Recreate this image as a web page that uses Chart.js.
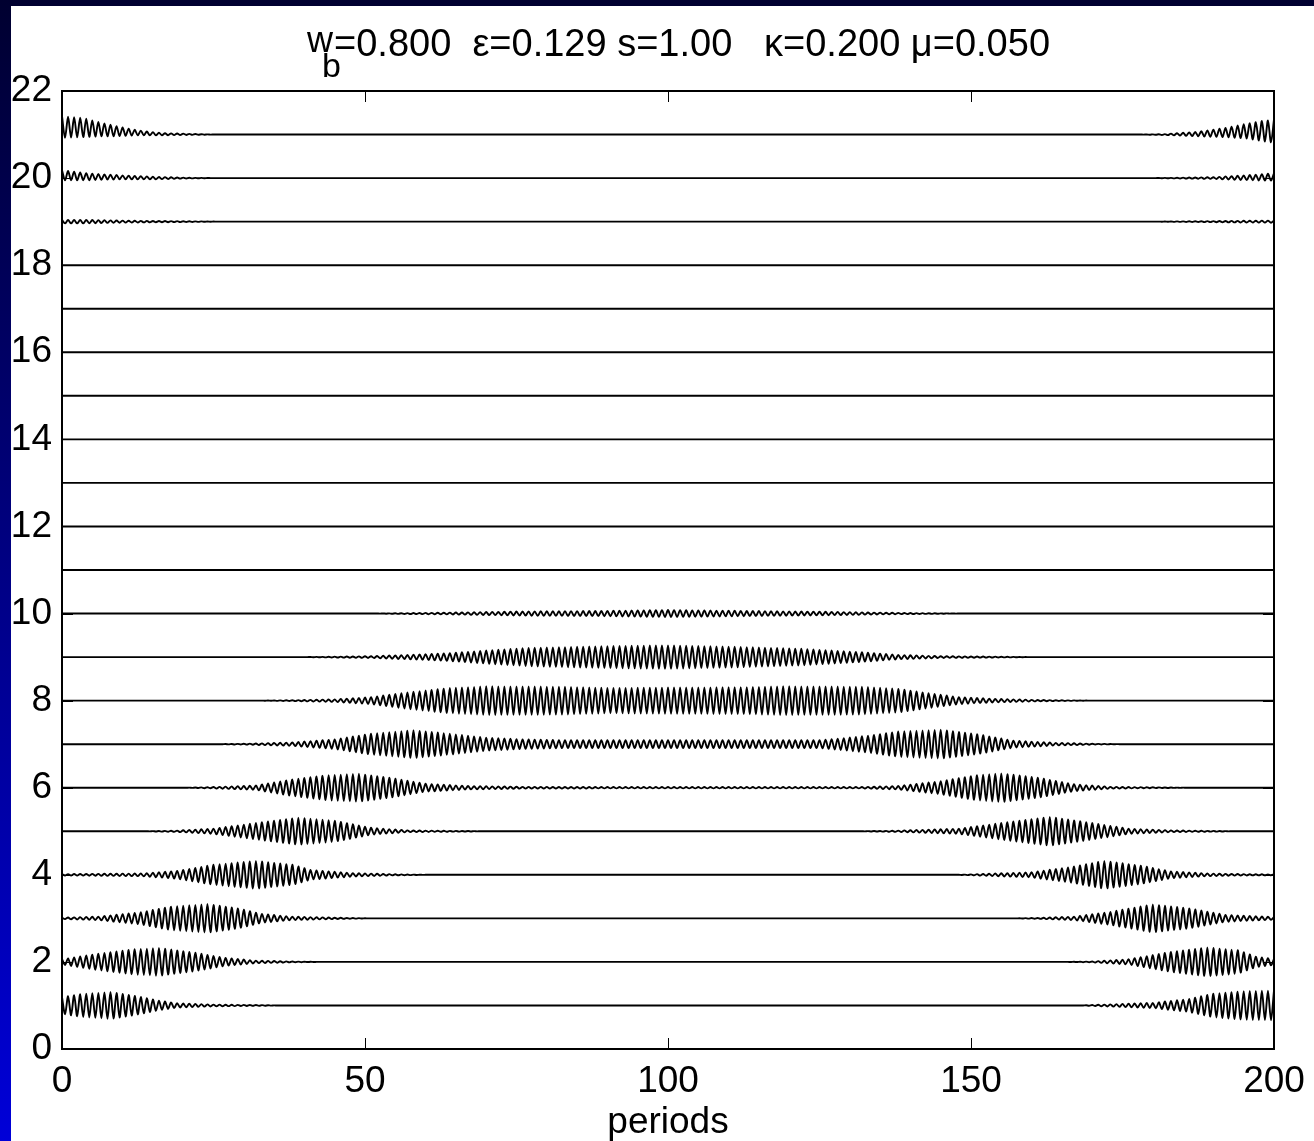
<!DOCTYPE html>
<html>
<head>
<meta charset="utf-8">
<script src="https://cdn.jsdelivr.net/npm/chart.js@4.4.1/dist/chart.umd.min.js"></script>
<style>
  html, body { margin: 0; padding: 0; }
  body {
    width: 1314px; height: 1141px; overflow: hidden; position: relative;
    background: linear-gradient(to bottom, #000030, #0000d8);
  }
  #sheet { position: absolute; left: 11px; top: 6px; right: 0; bottom: 0; background: #fff; }
  #wrap { position: absolute; left: 0; top: 0; width: 1314px; height: 1141px; }
</style>
</head>
<body>
<div id="sheet"></div>
<div id="wrap"><canvas id="chart"></canvas></div>
<script>
// axis ticks
const periodTicks = [0, 50, 100, 150, 200];
const siteTicks = [0, 2, 4, 6, 8, 10, 12, 14, 16, 18, 20, 22];

// oscillation envelope of each site as [period, half amplitude]
const env01 = [[0, 0.19], [3, 0.26], [8, 0.31], [12, 0.22], [16, 0.11], [19, 0.05], [25, 0.02], [32, 0.01], [36, 0], [168, 0], [172, 0.02], [180, 0.06], [186, 0.15], [190, 0.27], [195, 0.33], [200, 0.34]];
const env02 = [[0, 0.06], [6, 0.19], [12, 0.29], [16, 0.32], [22, 0.21], [27, 0.09], [32, 0.03], [38, 0.01], [42, 0], [166, 0], [170, 0.01], [176, 0.06], [183, 0.23], [189, 0.33], [194, 0.27], [197, 0.12], [200, 0.07]];
const env03 = [[0, 0.015], [6, 0.04], [13, 0.14], [18, 0.27], [24, 0.33], [29, 0.23], [33, 0.10], [38, 0.04], [45, 0.015], [51, 0], [157, 0], [161, 0.01], [167, 0.04], [173, 0.15], [180, 0.32], [186, 0.23], [192, 0.08], [200, 0.03]];
const env04 = [[0, 0.015], [13, 0.03], [19, 0.09], [25, 0.23], [32, 0.32], [38, 0.23], [41, 0.11], [48, 0.04], [54, 0.015], [60, 0], [148, 0], [151, 0.015], [160, 0.06], [167, 0.19], [172, 0.32], [178, 0.21], [183, 0.08], [189, 0.03], [195, 0.015], [200, 0.01]];
const env05 = [[0, 0], [14, 0], [19, 0.015], [25, 0.06], [32, 0.19], [39, 0.31], [45, 0.24], [51, 0.08], [57, 0.02], [64, 0.01], [70, 0], [132, 0], [138, 0.015], [148, 0.06], [156, 0.21], [163, 0.33], [170, 0.19], [176, 0.06], [183, 0.02], [189, 0.01], [194, 0]];
const env06 = [[0, 0], [20, 0], [25, 0.015], [32, 0.05], [38, 0.19], [44, 0.29], [49, 0.32], [54, 0.23], [60, 0.09], [67, 0.04], [76, 0.02], [90, 0.015], [132, 0.015], [138, 0.04], [145, 0.15], [151, 0.29], [155, 0.33], [161, 0.23], [167, 0.08], [173, 0.02], [180, 0.01], [186, 0]];
const env07 = [[0, 0], [26, 0], [32, 0.015], [38, 0.04], [45, 0.11], [51, 0.24], [58, 0.32], [64, 0.24], [70, 0.15], [76, 0.11], [83, 0.09], [125, 0.09], [129, 0.14], [134, 0.21], [138, 0.29], [145, 0.33], [151, 0.23], [157, 0.08], [164, 0.03], [170, 0.01], [175, 0]];
const env08 = [[0, 0], [33, 0], [38, 0.01], [45, 0.03], [51, 0.08], [57, 0.19], [64, 0.29], [70, 0.33], [83, 0.32], [90, 0.29], [100, 0.30], [113, 0.31], [119, 0.33], [132, 0.32], [138, 0.27], [142, 0.19], [148, 0.08], [154, 0.04], [161, 0.015], [170, 0]];
const env09 = [[0, 0], [40, 0], [45, 0.01], [51, 0.02], [57, 0.05], [64, 0.09], [70, 0.15], [77, 0.21], [89, 0.25], [100, 0.27], [113, 0.23], [122, 0.19], [132, 0.11], [138, 0.05], [145, 0.02], [154, 0.01], [160, 0]];
const env10 = [[0, 0], [52, 0], [57, 0.01], [64, 0.02], [77, 0.05], [89, 0.06], [100, 0.08], [113, 0.06], [126, 0.04], [135, 0.02], [141, 0.01], [148, 0]];
const envQuiet = [[0, 0], [200, 0]];
const env19 = [[0, 0.04], [4, 0.04], [9, 0.025], [15, 0.015], [20, 0.01], [26, 0], [180, 0], [188, 0.01], [195, 0.02], [200, 0.025]];
const env20Up = [[0, 0.18], [4, 0.11], [9, 0.07], [15, 0.03], [20, 0.01], [25, 0], [180, 0], [185, 0.01], [190, 0.02], [196, 0.07], [200, 0.11]];
const env20Down = [[0, 0.05], [4, 0.05], [9, 0.03], [15, 0.03], [20, 0.01], [25, 0], [180, 0], [185, 0.01], [190, 0.02], [196, 0.05], [200, 0.06]];
const env21Up = [[0, 0.42], [3.5, 0.38], [6, 0.29], [9, 0.19], [12, 0.11], [14.5, 0.06], [17, 0.03], [20, 0.02], [25, 0], [178, 0], [182, 0.01], [187, 0.06], [192, 0.15], [195.5, 0.25], [198, 0.31], [200, 0.34]];
const env21Down = [[0, 0.08], [3.5, 0.06], [6, 0.04], [9, 0.04], [12, 0.02], [15, 0.02], [20, 0.01], [25, 0], [178, 0], [182, 0.01], [187, 0.04], [192, 0.06], [195.5, 0.09], [198, 0.15], [200, 0.19]];

// site offset, upper envelope, lower envelope
const sites = [
  [1, env01, env01], [2, env02, env02], [3, env03, env03], [4, env04, env04],
  [5, env05, env05], [6, env06, env06], [7, env07, env07], [8, env08, env08],
  [9, env09, env09], [10, env10, env10], [11, envQuiet, envQuiet], [12, envQuiet, envQuiet],
  [13, envQuiet, envQuiet], [14, envQuiet, envQuiet], [15, envQuiet, envQuiet], [16, envQuiet, envQuiet],
  [17, envQuiet, envQuiet], [18, envQuiet, envQuiet], [19, env19, env19], [20, env20Up, env20Down],
  [21, env21Up, env21Down]
];

const FONT = '"Liberation Sans", Arial, sans-serif';

function envAt(knots, p) {
  if (p <= knots[0][0]) return knots[0][1];
  for (let i = 1; i < knots.length; i++) {
    if (p <= knots[i][0]) {
      const [p0, a0] = knots[i - 1];
      const [p1, a1] = knots[i];
      return a0 + (a1 - a0) * (p - p0) / (p1 - p0);
    }
  }
  return knots[knots.length - 1][1];
}

// one swing per period: crest on whole periods, trough on half periods
function buildTrace(site) {
  const [offset, up, down] = site;
  const pts = [];
  for (let k = 0; k <= 400; k++) {
    const p = k / 2;
    const y = k % 2 === 0 ? offset + envAt(up, p) : offset - envAt(down, p);
    pts.push({ x: p, y: y });
  }
  return pts;
}

const boxPlugin = {
  id: 'box',
  afterDatasetsDraw(chart) {
    const { ctx, chartArea: a, scales: { x, y } } = chart;
    ctx.save();
    ctx.strokeStyle = '#000';
    ctx.lineWidth = 1;
    ctx.beginPath();
    periodTicks.forEach(v => {
      const px = Math.round(x.getPixelForValue(v)) + 0.5;
      ctx.moveTo(px, a.bottom); ctx.lineTo(px, a.bottom - 11);
      ctx.moveTo(px, a.top); ctx.lineTo(px, a.top + 11);
    });
    siteTicks.forEach(v => {
      const py = Math.round(y.getPixelForValue(v)) + 0.5;
      ctx.moveTo(a.left, py); ctx.lineTo(a.left + 11, py);
      ctx.moveTo(a.right, py); ctx.lineTo(a.right - 11, py);
    });
    ctx.stroke();
    ctx.lineWidth = 2;
    ctx.strokeRect(a.left, a.top, a.right - a.left, a.bottom - a.top);
    ctx.restore();
  }
};

const titlePlugin = {
  id: 'texTitle',
  afterDraw(chart) {
    const ctx = chart.ctx;
    const rest = '=0.800  \u03b5=0.129 s=1.00   \u03ba=0.200 \u03bc=0.050';
    ctx.save();
    ctx.fillStyle = '#000';
    ctx.textBaseline = 'alphabetic';
    ctx.textAlign = 'left';
    let xPos = 307;
    ctx.font = '36px ' + FONT;
    ctx.fillText('w', xPos, 52);
    xPos += ctx.measureText('w').width;
    ctx.font = '34px ' + FONT;
    ctx.fillText('b', xPos - 11, 77);
    ctx.font = '38px ' + FONT;
    ctx.fillText(rest, xPos + 1, 56);
    ctx.restore();
  }
};

new Chart(document.getElementById('chart'), {
  type: 'line',
  data: {
    datasets: sites.map(s => ({
      label: 'site ' + s[0],
      data: buildTrace(s),
      borderColor: '#000',
      borderWidth: 1.9,
      pointRadius: 0,
      tension: 0.3,
      fill: false
    }))
  },
  options: {
    responsive: true,
    maintainAspectRatio: false,
    animation: false,
    layout: { padding: { left: 0, top: 91, right: 40, bottom: 0 } },
    plugins: {
      legend: { display: false },
      title: { display: false },
      tooltip: { enabled: false }
    },
    scales: {
      x: {
        type: 'linear',
        min: 0,
        max: 200,
        afterBuildTicks: s => { s.ticks = periodTicks.map(v => ({ value: v })); },
        afterFit: s => { s.height = 92; s.paddingLeft = 0; s.paddingRight = 0; },
        grid: { display: false, drawTicks: false },
        border: { display: false },
        ticks: { color: '#000', font: { family: FONT, size: 37 }, padding: 11, maxRotation: 0, autoSkip: false },
        title: { display: true, text: 'periods', color: '#000', font: { family: FONT, size: 37 }, padding: { top: 0, bottom: -4 } }
      },
      y: {
        type: 'linear',
        min: 0,
        max: 22,
        afterBuildTicks: s => { s.ticks = siteTicks.map(v => ({ value: v })); },
        afterFit: s => { s.width = 62; s.paddingTop = 0; s.paddingBottom = 0; },
        grid: { display: false, drawTicks: false },
        border: { display: false },
        ticks: { color: '#000', font: { family: FONT, size: 37 }, padding: 10, autoSkip: false }
      }
    }
  },
  plugins: [boxPlugin, titlePlugin]
});
</script>
</body>
</html>
